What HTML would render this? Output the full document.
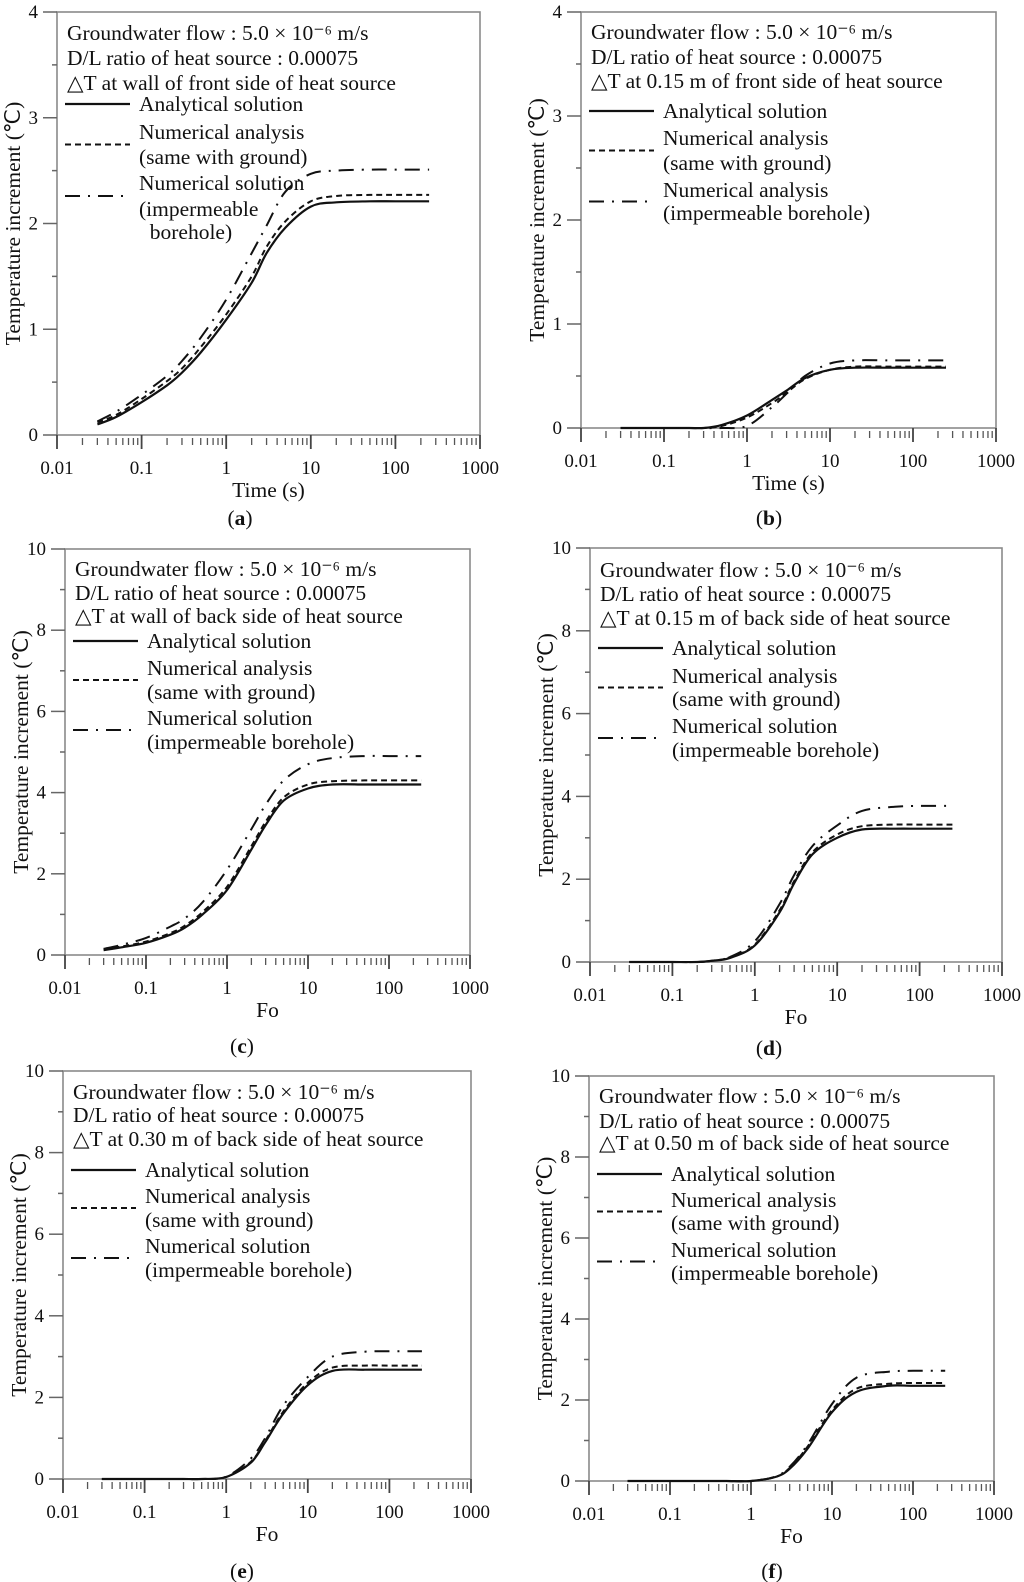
<!DOCTYPE html>
<html><head><meta charset="utf-8"><style>
html,body{margin:0;padding:0;background:#fff;}
svg{display:block;font-family:"Liberation Serif",serif;}
</style></head><body>
<svg id="fig" width="1024" height="1582" viewBox="0 0 1024 1582" xmlns="http://www.w3.org/2000/svg"></svg>
<script>
const xs = [0.03,0.05,0.1,0.2,0.3,0.5,1,2,3,5,10,20,50,100,250];
const xTickLabels = ["0.01","0.1","1","10","100","1000"];
const a_an = [0.1,0.17,0.31,0.47,0.59,0.78,1.09,1.44,1.72,1.96,2.16,2.2,2.21,2.21,2.21];
const a_da = [0.12,0.19,0.34,0.51,0.63,0.83,1.14,1.5,1.78,2.02,2.21,2.26,2.27,2.27,2.27];
const a_dd = [0.13,0.22,0.38,0.56,0.7,0.92,1.28,1.72,1.98,2.3,2.47,2.5,2.51,2.51,2.51];
const b_an = [0,0,0,0,0,0.03,0.12,0.27,0.36,0.48,0.56,0.58,0.58,0.58,0.58];
const b_da = [0,0,0,0,0,0.02,0.1,0.24,0.34,0.47,0.56,0.59,0.59,0.59,0.59];
const b_dd = [0,0,0,0,0,0,0.02,0.2,0.33,0.5,0.62,0.65,0.65,0.65,0.65];
const c_an = [0.12,0.19,0.3,0.5,0.67,1.0,1.6,2.6,3.2,3.8,4.1,4.2,4.2,4.2,4.2];
const c_da = [0.14,0.21,0.33,0.54,0.72,1.06,1.68,2.68,3.28,3.88,4.2,4.28,4.3,4.3,4.3];
const c_dd = [0.15,0.25,0.42,0.7,0.9,1.3,2.1,3.1,3.7,4.3,4.7,4.85,4.9,4.9,4.9];
const d_an = [0,0,0,0,0.03,0.1,0.4,1.2,1.9,2.6,3.0,3.2,3.22,3.22,3.22];
const d_da = [0,0,0,0,0.03,0.11,0.42,1.25,1.95,2.65,3.08,3.28,3.32,3.32,3.32];
const d_dd = [0,0,0,0,0.03,0.12,0.5,1.4,2.1,2.8,3.3,3.65,3.75,3.77,3.77];
const e_an = [0,0,0,0,0,0,0.05,0.4,0.9,1.6,2.3,2.65,2.68,2.68,2.68];
const e_da = [0,0,0,0,0,0,0.05,0.42,0.93,1.65,2.36,2.73,2.78,2.78,2.78];
const e_dd = [0,0,0,0,0,0,0.06,0.5,1.0,1.8,2.5,3.0,3.12,3.13,3.13];
const f_an = [0,0,0,0,0,0,0,0.1,0.3,0.8,1.7,2.2,2.35,2.35,2.35];
const f_da = [0,0,0,0,0,0,0,0.1,0.32,0.85,1.75,2.28,2.4,2.42,2.42];
const f_dd = [0,0,0,0,0,0,0,0.11,0.35,0.9,1.9,2.55,2.7,2.72,2.72];

const NS="http://www.w3.org/2000/svg";
const svg=document.getElementById('fig');
function mk(tag,attrs,parent,txt){const e=document.createElementNS(NS,tag);for(const k in attrs)e.setAttribute(k,attrs[k]);if(txt!==undefined)e.textContent=txt;parent.appendChild(e);return e;}

const panels=[
 {id:'a',L:57,R:480,T:12,B:435,ymax:4,xt:'Time (s)',loc:'wall of front side of heat source',cap:'a',cx:240,cy:525,
  ann:[21,46,71],leg:[92,120,145,171,197,220],third:['Numerical solution','(impermeable','\u00a0\u00a0borehole)'],an:a_an,da:a_da,dd:a_dd},
 {id:'b',L:581,R:996,T:12,B:428,ymax:4,xt:'Time (s)',loc:'0.15 m of front side of heat source',cap:'b',cx:769,cy:525,
  ann:[20,45,69],leg:[99,126,151,178,201],third:['Numerical analysis','(impermeable borehole)'],an:b_an,da:b_da,dd:b_dd},
 {id:'c',L:65,R:470,T:549,B:955,ymax:10,xt:'Fo',loc:'wall of back side of heat source',cap:'c',cx:242,cy:1053,
  ann:[20,44,67],leg:[92,119,143,169,193],third:['Numerical solution','(impermeable borehole)'],an:c_an,da:c_da,dd:c_dd},
 {id:'d',L:590,R:1002,T:548,B:962,ymax:10,xt:'Fo',loc:'0.15 m of back side of heat source',cap:'d',cx:769,cy:1055,
  ann:[22,46,70],leg:[100,128,151,178,202],third:['Numerical solution','(impermeable borehole)'],an:d_an,da:d_da,dd:d_dd},
 {id:'e',L:63,R:471,T:1071,B:1479,ymax:10,xt:'Fo',loc:'0.30 m of back side of heat source',cap:'e',cx:242,cy:1578,
  ann:[21,44,68],leg:[99,125,149,175,199],third:['Numerical solution','(impermeable borehole)'],an:e_an,da:e_da,dd:e_dd},
 {id:'f',L:589,R:994,T:1076,B:1481,ymax:10,xt:'Fo',loc:'0.50 m of back side of heat source',cap:'f',cx:772,cy:1578,
  ann:[20,45,67],leg:[98,124,147,174,197],third:['Numerical solution','(impermeable borehole)'],an:f_an,da:f_da,dd:f_dd}
];

function smoothPath(pts){
  let d='M'+pts[0][0].toFixed(1)+','+pts[0][1].toFixed(1);
  for(let i=0;i<pts.length-1;i++){
    const p0=pts[Math.max(0,i-1)],p1=pts[i],p2=pts[i+1],p3=pts[Math.min(pts.length-1,i+2)];
    const c1=[p1[0]+(p2[0]-p0[0])/6,p1[1]+(p2[1]-p0[1])/6];
    const c2=[p2[0]-(p3[0]-p1[0])/6,p2[1]-(p3[1]-p1[1])/6];
    d+=' C'+c1[0].toFixed(1)+','+c1[1].toFixed(1)+' '+c2[0].toFixed(1)+','+c2[1].toFixed(1)+' '+p2[0].toFixed(1)+','+p2[1].toFixed(1);
  }
  return d;
}

const styles={an:{w:2.2,dash:''},da:{w:2,dash:'6,4'},dd:{w:2,dash:'15,8,2,8'}};
const FS=21.5;

panels.forEach(p=>{
  const g=mk('g',{},svg);
  
  
  const xS=v=>p.L+(Math.log10(v)+2)/5*(p.R-p.L);
  const yS=v=>p.B-v/p.ymax*(p.B-p.T);
  const frame=mk('rect',{x:p.L,y:p.T,width:p.R-p.L,height:p.B-p.T,fill:'none',stroke:'#8a8a8a','stroke-width':1.6},g);
  
  
  const step=p.ymax===4?0.5:1;
  for(let v=0;v<=p.ymax+1e-9;v+=step){
    const y=yS(v);const major=(p.ymax===4?Math.abs(v-Math.round(v))<1e-9:Math.round(v)%2===0);
    mk('line',{x1:p.L-(major?14:5),x2:p.L,y1:y,y2:y,stroke:'#666','stroke-width':1.5},g);
    if(major){
      const t=mk('text',{x:p.L-19,y:y+6,'text-anchor':'end','font-size':19,fill:'#111'},g,String(Math.round(v)));
      
      
    }
  }
  for(let k=0;k<5;k++){
    for(let m=1;m<=9;m++){
      const v=Math.pow(10,k-2)*m;const x=xS(v);
      if(m===1) mk('line',{x1:x,x2:x,y1:p.B,y2:p.B+14,stroke:'#444','stroke-width':1.8},g);
      else mk('line',{x1:x,x2:x,y1:p.B+3,y2:p.B+10,stroke:'#555','stroke-width':1.3},g);
    }
  }
  mk('line',{x1:p.R,x2:p.R,y1:p.B,y2:p.B+14,stroke:'#444','stroke-width':1.8},g);
  xTickLabels.forEach((lab,i)=>{
    const t=mk('text',{x:xS(Math.pow(10,i-2)),y:p.B+39,'text-anchor':'middle','font-size':19,fill:'#111'},g,lab);
    
    
  });
  const xt=mk('text',{x:(p.L+p.R)/2,y:p.B+62,'text-anchor':'middle','font-size':FS,fill:'#111'},g,p.xt);
  
  
  const yc=(p.T+p.B)/2;
  const yt=mk('text',{x:p.L-44,y:yc,'text-anchor':'middle','font-size':FS,fill:'#111',transform:'rotate(-90 '+(p.L-44)+' '+yc+') translate(0,7)'},g,'Temperature increment (\u2103)');
  
  
  const annTxt=['Groundwater flow : 5.0 \u00d7 10\u207b\u2076 m/s','D/L ratio of heat source : 0.00075','\u25b3T at '+p.loc];
  annTxt.forEach((s,i)=>{
    const t=mk('text',{x:p.L+10,y:p.T+p.ann[i]+7,'font-size':FS,fill:'#111'},g,s);
    
    
  });
  const lg=mk('g',{},g);
  
  
  const lx1=p.L+8,lx2=p.L+73,tx=p.L+82;
  const lines=[['Analytical solution'],['Numerical analysis','(same with ground)'],p.third];
  const keys=['an','da','dd'];
  let idx=0;
  lines.forEach((ls,i)=>{
    const ys=ls.map((_,j)=>p.T+p.leg[idx+j]);
    const mid=ls.length===1?ys[0]:(ys[0]+ys[1])/2;
    const st=styles[keys[i]];
    mk('line',{x1:lx1,x2:lx2,y1:mid,y2:mid,stroke:'#111','stroke-width':st.w,'stroke-dasharray':st.dash},lg);
    ls.forEach((s,j)=>{
      const t=mk('text',{x:tx,y:ys[j]+7,'font-size':FS,fill:'#111'},lg,s);
      
      
    });
    idx+=ls.length;
  });
  keys.forEach(k=>{
    const pts=xs.map((x,i)=>[xS(x),yS(p[k][i])]);
    const st=styles[k];
    const path=mk('path',{d:smoothPath(pts),fill:'none',stroke:'#111','stroke-width':st.w,'stroke-dasharray':st.dash},g);
    
    
  });
  const cap=mk('text',{x:p.cx,y:p.cy,'text-anchor':'middle','font-size':FS,fill:'#111'},g);
  
  
  mk('tspan',{},cap,'(');
  mk('tspan',{'font-weight':'bold'},cap,p.cap);
  mk('tspan',{},cap,')');
});
</script>
</body></html>
